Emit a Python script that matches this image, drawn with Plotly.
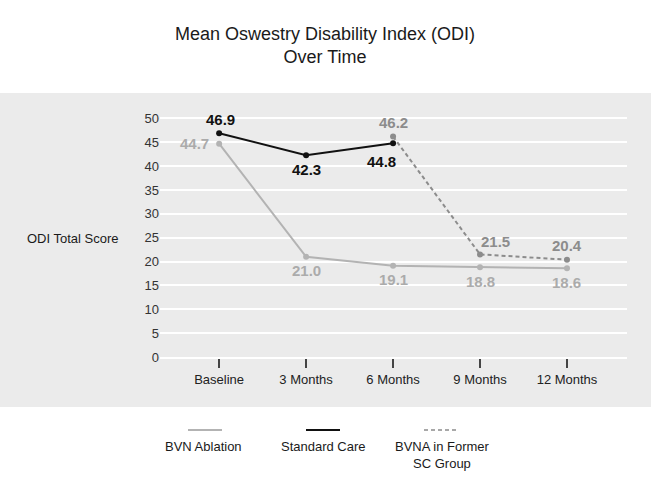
import plotly.graph_objects as go

categories = ["Baseline", "3 Months", "6 Months", "9 Months", "12 Months"]
bvn_ablation = [44.7, 21.0, 19.1, 18.8, 18.6]
standard_care_x = ["Baseline", "3 Months", "6 Months"]
standard_care = [46.9, 42.3, 44.8]
bvna_former_sc_x = ["6 Months", "9 Months", "12 Months"]
bvna_former_sc = [46.2, 21.5, 20.4]
y_ticks = [0, 5, 10, 15, 20, 25, 30, 35, 40, 45, 50]

LIGHT = "#b3b3b3"
LIGHT_TXT = "#ababab"
BLACK = "#111111"
DARK = "#8c8c8c"
BG = "#ebebeb"
FONT = "Liberation Sans, Arial, sans-serif"

W, H = 651, 478
L, R, T, B = 160, 24, 116, 121
PW, PH = W - L - R, H - T - B


def px(x):
    return (x - L) / PW


def py(y):
    return (H - B - y) / PH


fig = go.Figure()
fig.add_trace(go.Scatter(x=categories, y=bvn_ablation, mode="lines+markers",
                         line=dict(color=LIGHT, width=2), marker=dict(size=6, color=LIGHT),
                         showlegend=False, cliponaxis=False))
fig.add_trace(go.Scatter(x=bvna_former_sc_x, y=bvna_former_sc, mode="lines+markers",
                         line=dict(color=DARK, width=2, dash="4px,3px"), marker=dict(size=6, color=DARK),
                         showlegend=False, cliponaxis=False))
fig.add_trace(go.Scatter(x=standard_care_x, y=standard_care, mode="lines+markers",
                         line=dict(color=BLACK, width=2), marker=dict(size=6, color=BLACK),
                         showlegend=False, cliponaxis=False))

annotations = []


def label(x, y, color, dx, dy):
    annotations.append(dict(x=x, y=y, xref="x", yref="y", text=f"<b>{y:.1f}</b>",
                            showarrow=False, xshift=dx, yshift=dy,
                            font=dict(family=FONT, size=15, color=color)))


bvn_offsets = [(-25, 0), (0, -14), (0, -14), (0, -14), (0, -14)]
for c, v, (dx, dy) in zip(categories, bvn_ablation, bvn_offsets):
    label(c, v, LIGHT_TXT, dx, dy)
sc_offsets = [(1, 14), (0, -14), (-12, -18)]
for c, v, (dx, dy) in zip(standard_care_x, standard_care, sc_offsets):
    label(c, v, BLACK, dx, dy)
bv_offsets = [(0, 14), (15, 13), (0, 14)]
for c, v, (dx, dy) in zip(bvna_former_sc_x, bvna_former_sc, bv_offsets):
    label(c, v, DARK, dx, dy)

# Title
annotations.append(dict(x=px(325), y=py(46), xref="paper", yref="paper",
                        text="Mean Oswestry Disability Index (ODI)<br>Over Time",
                        showarrow=False, xanchor="center", yanchor="middle",
                        font=dict(family=FONT, size=18, color="#1a1a1a")))
# Y axis title
annotations.append(dict(x=px(73), y=py(238), xref="paper", yref="paper",
                        text="ODI Total Score", showarrow=False,
                        xanchor="center", yanchor="middle",
                        font=dict(family=FONT, size=13, color="#1a1a1a")))

# Legend
legend_items = [("BVN Ablation", LIGHT, "solid", 205, 203),
                ("Standard Care", BLACK, "solid", 323, 323),
                ("BVNA in Former<br>SC Group", DARK, "dash", 441, 442)]
shapes = [dict(type="rect", xref="paper", yref="paper", x0=px(0), x1=px(W),
               y0=py(407), y1=py(93), fillcolor=BG, line=dict(width=0), layer="below")]
for name, col, dash, lx, tx in legend_items:
    shapes.append(dict(type="line", xref="paper", yref="paper",
                       x0=px(lx - 17), x1=px(lx + 17), y0=py(430), y1=py(430),
                       line=dict(color=col, width=2 if dash == "solid" else 1.5,
                                 dash="solid" if dash == "solid" else "4px,3px")))
    annotations.append(dict(x=px(tx), y=py(437), xref="paper", yref="paper",
                            text=name, showarrow=False, xanchor="center", yanchor="top",
                            font=dict(family=FONT, size=13, color="#1a1a1a")))

fig.update_layout(
    width=W, height=H,
    margin=dict(l=L, r=R, t=T, b=B),
    paper_bgcolor="white",
    plot_bgcolor="rgba(0,0,0,0)",
    shapes=shapes,
    annotations=annotations,
    font=dict(family=FONT, size=13, color="#333333"),
    xaxis=dict(type="category", categoryorder="array", categoryarray=categories,
               range=[-0.68, 4.69], showgrid=False, zeroline=False,
               showline=True, linecolor="white", linewidth=2,
               ticks="outside", ticklen=9, tickwidth=1.5, tickcolor="#444444",
               tickfont=dict(family=FONT, size=13, color="#222222")),
    yaxis=dict(range=[0, 50.5], tickvals=y_ticks, showgrid=True, gridcolor="white",
               gridwidth=2, zeroline=False, showline=False, ticks="",
               tickfont=dict(family=FONT, size=13, color="#333333")),
)

fig.write_html("out.html", config={"displayModeBar": False},
               post_script="document.body.style.margin='0';document.body.style.overflow='hidden';")
